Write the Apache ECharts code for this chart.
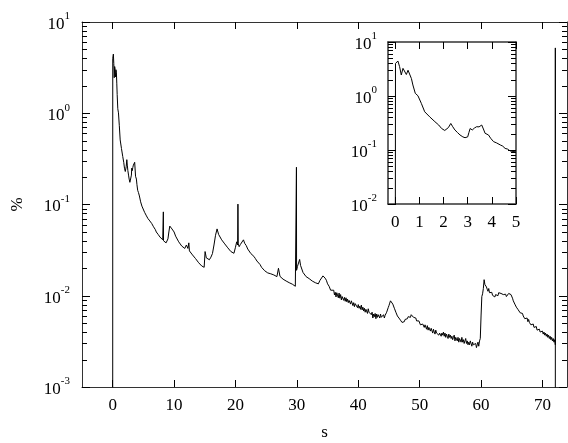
<!DOCTYPE html>
<html>
<head>
<meta charset="utf-8">
<script src="https://cdn.jsdelivr.net/npm/echarts@6/dist/echarts.min.js"></script>
<style>
  html, body { margin: 0; padding: 0; background: #fff; }
  #chart { width: 568px; height: 443px; }
</style>
</head>
<body>
<div id="chart"></div>
<script>
// Signal level (%) against time (s). First five seconds, shared by the inset.
const earlyPoints = [
  [0, 0.0001], [0.01, 4.0], [0.11, 4.45], [0.18, 3.5], [0.25, 2.45], [0.32, 3.25],
  [0.39, 3.03], [0.46, 2.5], [0.53, 3.0], [0.6, 2.82], [0.67, 2.1], [0.73, 1.6],
  [0.83, 1.12], [0.94, 1.01], [1.08, 0.73], [1.22, 0.51], [1.43, 0.41], [1.64, 0.335],
  [1.8, 0.29], [1.92, 0.25], [2.05, 0.23], [2.12, 0.219], [2.2, 0.26], [2.3, 0.31],
  [2.38, 0.27], [2.47, 0.235], [2.58, 0.21], [2.68, 0.19], [2.8, 0.175], [2.89, 0.169],
  [3.0, 0.175], [3.05, 0.21], [3.1, 0.25], [3.19, 0.235], [3.28, 0.255], [3.37, 0.27],
  [3.47, 0.268], [3.58, 0.29], [3.65, 0.245], [3.72, 0.204], [3.86, 0.19], [3.95, 0.165],
  [4.07, 0.143], [4.2, 0.135], [4.35, 0.124], [4.45, 0.118], [4.55, 0.107], [4.65, 0.104],
  [4.76, 0.096], [4.88, 0.094], [5.0, 0.092]
];

// 5 s to 36 s: slow decay with the bursts near 8, 17, 20, 30 and 34 s.
const middlePoints = [
  [5.2, 0.082], [5.35, 0.080], [5.5, 0.075], [5.6, 0.074], [5.75, 0.070], [5.9, 0.068],
  [6.05, 0.066], [6.2, 0.064], [6.35, 0.062], [6.5, 0.060], [6.65, 0.057], [6.8, 0.055],
  [6.95, 0.053], [7.1, 0.050], [7.25, 0.049], [7.4, 0.047], [7.55, 0.046], [7.7, 0.044],
  [7.85, 0.043], [8.0, 0.042], [8.15, 0.041], [8.22, 0.040], [8.25, 0.083], [8.28, 0.040],
  [8.4, 0.040], [8.55, 0.039], [8.7, 0.038], [8.86, 0.037], [9.0, 0.042], [9.15, 0.050],
  [9.3, 0.058], [9.4, 0.060], [9.5, 0.056], [9.65, 0.054], [9.8, 0.055], [9.93, 0.052],
  [10.0, 0.050], [10.25, 0.045], [10.5, 0.044], [10.75, 0.039], [11.0, 0.038], [11.25, 0.035],
  [11.5, 0.034], [11.75, 0.033], [12.0, 0.036], [12.25, 0.033], [12.4, 0.038], [12.5, 0.031],
  [12.75, 0.0305], [13.0, 0.028], [13.25, 0.0275], [13.5, 0.0255], [13.75, 0.0245], [14.0, 0.023],
  [14.25, 0.0225], [14.5, 0.0212], [14.75, 0.0208], [14.9, 0.0205], [15.05, 0.0305], [15.25, 0.026],
  [15.5, 0.0255], [15.75, 0.0248], [16.0, 0.0265], [16.25, 0.029], [16.5, 0.036], [16.75, 0.046],
  [17.0, 0.054], [17.25, 0.047], [17.5, 0.0455], [17.75, 0.041], [18.0, 0.0405], [18.25, 0.037],
  [18.5, 0.0365], [18.75, 0.0335], [19.0, 0.0335], [19.25, 0.0305], [19.5, 0.0302], [19.75, 0.0292],
  [20.0, 0.034], [20.2, 0.039], [20.35, 0.036], [20.4, 0.101], [20.45, 0.037], [20.6, 0.0345],
  [20.8, 0.0365], [21.0, 0.0375], [21.3, 0.041], [21.5, 0.0375], [21.75, 0.0355], [22.0, 0.0325],
  [22.25, 0.0315], [22.5, 0.029], [22.75, 0.0285], [23.0, 0.027], [23.25, 0.0255], [23.5, 0.024],
  [23.75, 0.0235], [24.0, 0.022], [24.25, 0.0205], [24.5, 0.0208], [24.75, 0.0188], [25.0, 0.0195],
  [25.25, 0.0178], [25.5, 0.0182], [25.75, 0.0174], [26.0, 0.0178], [26.25, 0.0169], [26.5, 0.0172],
  [26.75, 0.0162], [27.0, 0.020], [27.25, 0.0163], [27.5, 0.016], [27.75, 0.0152], [28.0, 0.0155],
  [28.25, 0.0145], [28.5, 0.0149], [28.75, 0.0139], [29.0, 0.0142], [29.25, 0.0134], [29.5, 0.0135],
  [29.75, 0.0127], [29.92, 0.0128], [29.93, 0.256], [29.95, 0.019], [30.1, 0.021], [30.25, 0.022],
  [30.45, 0.025], [30.6, 0.0215], [30.8, 0.0205], [31.0, 0.018], [31.25, 0.0172], [31.5, 0.0162],
  [31.75, 0.0163], [32.0, 0.0154], [32.25, 0.0157], [32.5, 0.0145], [32.75, 0.0149], [33.0, 0.0139],
  [33.25, 0.014], [33.5, 0.0135], [33.75, 0.0147], [34.0, 0.0149], [34.25, 0.0165], [34.4, 0.017],
  [34.6, 0.0156], [34.8, 0.0148], [35.0, 0.0135], [35.25, 0.0127], [35.5, 0.0115], [35.75, 0.0114]
];

// 36 s to 72 s, sampled every 0.125 s: noisy tail with the step near 60 s.
const tailStart = 36;
const tailStep = 0.125;
const tailPct = [
  0.0115, 0.0102, 0.0109, 0.0097, 0.0108, 0.0103, 0.0095, 0.0107,
  0.0094, 0.0103, 0.0090, 0.0098, 0.0101, 0.0089, 0.0096, 0.0087,
  0.0095, 0.0086, 0.0092, 0.0084, 0.0089, 0.0093, 0.0081, 0.0088,
  0.0085, 0.0078, 0.0084, 0.0076, 0.0082, 0.0079, 0.0086, 0.0074,
  0.0080, 0.0073, 0.0077, 0.0071, 0.0079, 0.0070, 0.0075, 0.0068,
  0.0073, 0.0066, 0.0071, 0.0068, 0.0064, 0.0072, 0.0066, 0.0069,
  0.0068, 0.0062, 0.0066, 0.0057, 0.0063, 0.0059, 0.0064, 0.0056,
  0.0063, 0.0058, 0.0062, 0.0060, 0.0057, 0.0063, 0.0058, 0.0061,
  0.0059, 0.0062, 0.0057, 0.0061, 0.0063, 0.0066, 0.0069, 0.0074,
  0.0078, 0.0083, 0.0088, 0.0092, 0.0086, 0.0081, 0.0078, 0.0073,
  0.0071, 0.0066, 0.0064, 0.0060, 0.0062, 0.0057, 0.0058, 0.0054,
  0.0055, 0.0051, 0.0053, 0.0050, 0.0052, 0.0055, 0.0053, 0.0057,
  0.0056, 0.0059, 0.0057, 0.0061, 0.0058, 0.0062, 0.0060, 0.0061,
  0.0058, 0.0060, 0.0056, 0.0057, 0.0053, 0.0055, 0.0051, 0.0053,
  0.0051, 0.0048, 0.0050, 0.0046, 0.0049, 0.0047, 0.0045, 0.0048,
  0.0046, 0.0043, 0.0047, 0.0042, 0.0045, 0.0043, 0.0041, 0.0044,
  0.0042, 0.0039, 0.0043, 0.0040, 0.0038, 0.0042, 0.0039, 0.0041,
  0.0040, 0.0037, 0.0039, 0.0041, 0.0036, 0.0039, 0.0037, 0.0040,
  0.0036, 0.0039, 0.0035, 0.0038, 0.0036, 0.0034, 0.0038, 0.0035,
  0.0037, 0.0034, 0.0036, 0.0033, 0.0035, 0.0037, 0.0032, 0.0035,
  0.0034, 0.0032, 0.0035, 0.0031, 0.0034, 0.0033, 0.0031, 0.0035,
  0.0031, 0.0033, 0.0030, 0.0032, 0.0034, 0.0030, 0.0032, 0.0029,
  0.0031, 0.0029, 0.0032, 0.0030, 0.0028, 0.0031, 0.0029, 0.0030,
  0.0028, 0.0030, 0.0027, 0.0029, 0.0031, 0.0028, 0.0032, 0.0034,
  0.0060, 0.0098, 0.0105, 0.0120, 0.0150, 0.0133, 0.0138, 0.0125,
  0.0118, 0.0112, 0.0120, 0.0108, 0.0113, 0.0104, 0.0109, 0.0101,
  0.0099, 0.0104, 0.0097, 0.0103, 0.0101, 0.0106, 0.0100, 0.0108,
  0.0104, 0.0111, 0.0106, 0.0102, 0.0109, 0.0103, 0.0107, 0.0100,
  0.0104, 0.0098, 0.0103, 0.0100, 0.0106, 0.0101, 0.0108, 0.0103,
  0.0100, 0.0094, 0.0088, 0.0086, 0.0081, 0.0079, 0.0075, 0.0076,
  0.0071, 0.0068, 0.0070, 0.0065, 0.0066, 0.0062, 0.0064, 0.0060,
  0.0061, 0.0056, 0.0058, 0.0054, 0.0057, 0.0052, 0.0055, 0.0051,
  0.0052, 0.0048, 0.0050, 0.0046, 0.0049, 0.0045, 0.0047, 0.0044,
  0.0046, 0.0042, 0.0044, 0.0041, 0.0043, 0.0040, 0.0042, 0.0039,
  0.0041, 0.0038, 0.0040, 0.0037, 0.0039, 0.0036, 0.0038, 0.0035,
  0.0037, 0.0034, 0.0036, 0.0033, 0.0035, 0.0032, 0.0034, 0.0031,
  0.0033
];

// closing edge of the record at 72.1 s
const edgePoints = [[72.1, 0.0029], [72.1, 5.2], [72.1, 0.0001]];

const mainXTicks = [0, 10, 20, 30, 40, 50, 60, 70];
const insetXTicks = [0, 1, 2, 3, 4, 5];

const tailPoints = tailPct.map((v, i) => [tailStart + i * tailStep, v]);

// minor log ticks 2..9 inside each decade
function minorTicks(lo, hi) {
  const out = [];
  for (let d = lo; d < hi; d++) {
    for (let k = 2; k <= 9; k++) out.push(k * Math.pow(10, d));
  }
  return out;
}

const FONT = '"Liberation Serif", "DejaVu Serif", serif';
const INK = '#000';
const FRAME = '#333';

function powLabel(v) {
  const e = Math.round(Math.log10(v));
  return '{b|10}{e|' + e + '}';
}
const powRich = {
  b: { fontFamily: FONT, fontSize: 17, color: INK, padding: [5, 0, 0, 0] },
  e: { fontFamily: FONT, fontSize: 11, color: INK, verticalAlign: 'top' }
};

function xAxisSet(grid, min, max, ticks, labels, pos, lineW) {
  return {
    type: 'value', gridIndex: grid, min: min, max: max, position: pos,
    splitLine: { show: false },
    axisLine: { show: true, onZero: false, lineStyle: { color: FRAME, width: lineW } },
    axisTick: { show: true, inside: true, length: 7, customValues: ticks, lineStyle: { color: INK } },
    axisLabel: labels
      ? { show: true, customValues: ticks, margin: 10, fontFamily: FONT, fontSize: 17, color: INK }
      : { show: false }
  };
}

function yAxisSet(grid, min, max, pos, withLabels, lineW, labelMargin) {
  return {
    type: 'log', logBase: 10, gridIndex: grid, min: min, max: max, position: pos,
    splitLine: { show: false },
    axisLine: { show: true, onZero: false, lineStyle: { color: FRAME, width: lineW } },
    axisTick: { show: true, inside: true, length: 8, lineStyle: { color: INK } },
    axisLabel: withLabels
      ? { show: true, margin: labelMargin, formatter: powLabel, rich: powRich }
      : { show: false }
  };
}

// short inward minor ticks drawn through the axis scales: [x at frame edge, value, direction]
function minorTickSeries(xIdx, yIdx, xLeft, xRight, lo, hi) {
  const data = [];
  minorTicks(lo, hi).forEach(v => { data.push([xLeft, v, 1]); data.push([xRight, v, -1]); });
  return {
    type: 'custom', xAxisIndex: xIdx, yAxisIndex: yIdx, clip: false, silent: true,
    data: data,
    renderItem: function (params, api) {
      const p = api.coord([api.value(0), api.value(1)]);
      const y = Math.round(p[1]) + 0.5;
      return {
        type: 'line',
        shape: { x1: p[0], y1: y, x2: p[0] + api.value(2) * 5, y2: y },
        style: { stroke: INK, lineWidth: 1 }
      };
    }
  };
}

const chart = echarts.init(document.getElementById('chart'), null, { renderer: 'canvas' });

const mainX = xAxisSet(0, -5, 74, mainXTicks, true, 'bottom', 1);
mainX.name = 's';
mainX.nameLocation = 'middle';
mainX.nameGap = 37;
mainX.nameTextStyle = { fontFamily: FONT, fontSize: 17, color: INK };

const mainY = yAxisSet(0, 0.001, 10, 'left', true, 1, 12);
mainY.name = '%';
mainY.nameLocation = 'middle';
mainY.nameGap = 56;
mainY.nameTextStyle = { fontFamily: FONT, fontSize: 17, color: INK };

chart.setOption({
  animation: false,
  backgroundColor: '#fff',
  grid: [
    { left: 82, top: 22, right: 1, bottom: 56, containLabel: false, outerBoundsMode: 'none' },
    { left: 388, top: 42, right: 52, bottom: 239, containLabel: false, outerBoundsMode: 'none',
      show: true, backgroundColor: '#fff', borderWidth: 0 }
  ],
  xAxis: [
    mainX,
    xAxisSet(0, -5, 74, mainXTicks, false, 'top', 1),
    xAxisSet(1, -0.3, 5, insetXTicks, true, 'bottom', 1.5),
    xAxisSet(1, -0.3, 5, insetXTicks, false, 'top', 1.5)
  ],
  yAxis: [
    mainY,
    yAxisSet(0, 0.001, 10, 'right', false, 1),
    yAxisSet(1, 0.01, 10, 'left', true, 1.5, 11),
    yAxisSet(1, 0.01, 10, 'right', false, 1.5)
  ],
  series: [
    {
      type: 'line', xAxisIndex: 0, yAxisIndex: 0,
      data: earlyPoints.concat(middlePoints, tailPoints, edgePoints),
      showSymbol: false, clip: true,
      lineStyle: { color: INK, width: 1 }
    },
    {
      type: 'line', xAxisIndex: 2, yAxisIndex: 2,
      data: earlyPoints,
      showSymbol: false, clip: true,
      lineStyle: { color: INK, width: 1 }
    },
    minorTickSeries(0, 0, -5, 74, -3, 1),
    minorTickSeries(2, 2, -0.3, 5, -2, 1)
  ]
});
</script>
</body>
</html>
